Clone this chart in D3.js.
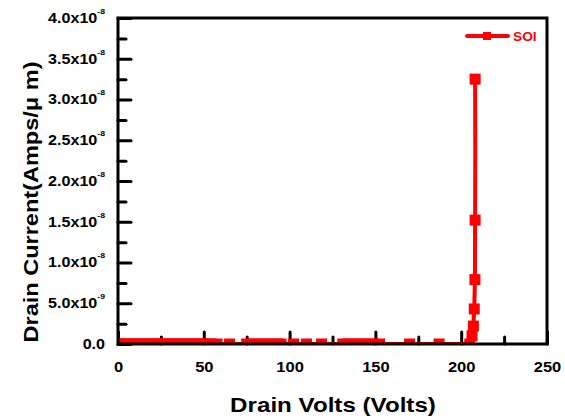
<!DOCTYPE html>
<html>
<head>
<meta charset="utf-8">
<script src="https://cdn.jsdelivr.net/npm/d3@7"></script>
<style>
  html, body { margin: 0; padding: 0; background: #fff; }
  svg { display: block; }
  text { font-family: Arial, "Liberation Sans", sans-serif; font-weight: bold; }
</style>
</head>
<body>
<svg id="chart" width="565" height="419"></svg>
<script>
// Drain voltage (V) of each sweep point
const drainVolts = [
  0, 2, 4, 6, 8, 10, 12, 14, 16, 18, 20, 22, 24, 26, 28, 30, 32, 34, 36, 38, 40,
  42, 44, 46, 48, 50, 52, 54,
  57.7, 65,
  75, 78, 81, 84, 87, 90, 93, 95,
  102.3, 109.9, 118.6,
  131, 134, 137, 140, 143, 146, 149, 152.4,
  169.9, 187.1,
  205, 206.3, 207.1, 207.6, 208, 208.1, 208.2, 208.1
];
// Drain current per micron (A/µm) at each point
const drainCurrent = [
  0, 0, 0, 0, 0, 0, 0, 0, 0, 0, 0, 0, 0, 0, 0, 0, 0, 0, 0, 0, 0,
  0, 0, 0, 0, 0, 0, 0,
  0, 0,
  0, 0, 0, 0, 0, 0, 0, 0,
  0, 0, 0,
  0, 0, 0, 0, 0, 0, 0, 0,
  0, 0,
  0, 1.0e-9, 2.2e-9, 4.3e-9, 7.9e-9, 1.52e-8, 2.38e-8, 3.25e-8
];
// Points drawn without a square marker (line vertices only)
const noMarker = [57];

const xTicks = [0, 50, 100, 150, 200, 250];
const xMinorTicks = [25, 75, 125, 175, 225];
const yTicks = [0, 5e-9, 1e-8, 1.5e-8, 2e-8, 2.5e-8, 3e-8, 3.5e-8, 4e-8];
const yTickLabels = [
  ["0.0", ""], ["5.0x10", "-9"], ["1.0x10", "-8"], ["1.5x10", "-8"], ["2.0x10", "-8"],
  ["2.5x10", "-8"], ["3.0x10", "-8"], ["3.5x10", "-8"], ["4.0x10", "-8"]
];
const yMinorTicks = [2.5e-9, 7.5e-9, 1.25e-8, 1.75e-8, 2.25e-8, 2.75e-8, 3.25e-8, 3.75e-8];
const seriesName = "SOI";

const red = "#ff0000";
const svg = d3.select("#chart");
const L = 118, R = 547, T = 18, B = 344;

// Widen text horizontally by factor k (keeps its height)
function widen(sel, k) {
  sel.each(function () {
    const w = this.getComputedTextLength();
    d3.select(this).attr("textLength", w * k).attr("lengthAdjust", "spacingAndGlyphs");
  });
}

const x = d3.scaleLinear().domain([0, 250]).range([L, R]);
const y = d3.scaleLinear().domain([0, 4e-8]).range([B, T]);

svg.append("defs").append("clipPath").attr("id", "plotClip")
  .append("rect").attr("x", L).attr("y", T).attr("width", R - L).attr("height", B - T);

// Inward minor ticks
const xMinor = svg.append("g").attr("transform", `translate(0,${B})`)
  .call(d3.axisBottom(x).tickValues(xMinorTicks).tickSizeInner(-7).tickSizeOuter(0).tickFormat(""));
const yMinor = svg.append("g").attr("transform", `translate(${L},0)`)
  .call(d3.axisLeft(y).tickValues(yMinorTicks).tickSizeInner(-8).tickSizeOuter(0).tickFormat(""));

// Major ticks with labels
const xAxis = svg.append("g").attr("transform", `translate(0,${B})`)
  .call(d3.axisBottom(x).tickValues(xTicks).tickSizeInner(-12).tickSizeOuter(0).tickPadding(17).tickFormat(d3.format("d")));
const yAxis = svg.append("g").attr("transform", `translate(${L},0)`)
  .call(d3.axisLeft(y).tickValues(yTicks).tickSizeInner(-13).tickSizeOuter(0).tickPadding(13));

[xMinor, yMinor, xAxis, yAxis].forEach(g => {
  g.select(".domain").remove();
  g.selectAll(".tick line").attr("stroke", "#000").attr("stroke-width", 3).attr("stroke-linecap", "round");
});
xAxis.selectAll(".tick text").attr("font-size", 15).attr("fill", "#000").call(widen, 1.1);

yAxis.selectAll(".tick text").each(function (d, i) {
  const t = d3.select(this).text(null).attr("font-size", 14).attr("fill", "#000");
  const lab = yTickLabels[i];
  t.append("tspan").text(lab[0]);
  if (lab[1]) t.append("tspan").attr("font-size", 7.5).attr("dy", -9).text(lab[1]);
}).call(widen, 1.15);

// Series: line and square markers
const plot = svg.append("g").attr("clip-path", "url(#plotClip)");
const pts = drainVolts.map((v, i) => ({ v, c: drainCurrent[i], i }));
plot.append("path").datum(pts)
  .attr("fill", "none").attr("stroke", red).attr("stroke-width", 4)
  .attr("d", d3.line().x(d => x(d.v)).y(d => y(d.c)));
const ms = 11;
plot.selectAll("rect.mk").data(pts.filter(d => !noMarker.includes(d.i))).join("rect")
  .attr("class", "mk")
  .attr("x", d => x(d.v) - ms / 2).attr("y", d => y(d.c) - ms / 2)
  .attr("width", ms).attr("height", ms).attr("fill", red);

// Frame
svg.append("rect").attr("x", L).attr("y", T).attr("width", R - L).attr("height", B - T)
  .attr("fill", "none").attr("stroke", "#000").attr("stroke-width", 3);

// Legend
const lg = svg.append("g");
lg.append("line").attr("x1", 467).attr("x2", 508).attr("y1", 36).attr("y2", 36)
  .attr("stroke", red).attr("stroke-width", 4).attr("stroke-linecap", "round");
lg.append("rect").attr("x", 483).attr("y", 32).attr("width", 8).attr("height", 8).attr("fill", red);
lg.append("text").attr("x", 513).attr("y", 41).attr("font-size", 12.5).attr("fill", red)
  .text(seriesName).call(widen, 1.1);

// Axis titles
svg.append("text").attr("x", 333).attr("y", 412).attr("text-anchor", "middle")
  .attr("font-size", 21).attr("fill", "#000").text("Drain Volts (Volts)").call(widen, 1.15);
svg.append("text").attr("transform", "translate(38,202) rotate(-90)").attr("text-anchor", "middle")
  .attr("font-size", 21).attr("fill", "#000").text("Drain Current(Amps/\u03bc  m)").call(widen, 1.12);
</script>
</body>
</html>
